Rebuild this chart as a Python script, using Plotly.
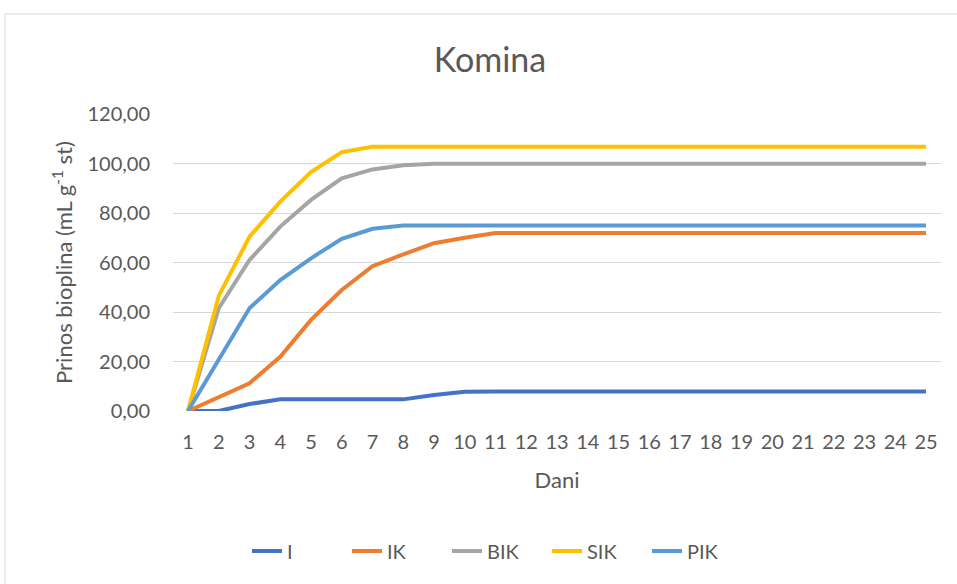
import plotly.graph_objects as go

days = list(range(1, 26))
I_vals = [0, 0, 2.8, 4.7, 4.7, 4.7, 4.7, 4.7, 6.5, 7.8] + [7.9] * 15
IK_vals = [0, 5.8, 11.2, 21.9, 36.8, 48.9, 58.5, 63.3, 67.8, 70.0, 71.9] + [71.9] * 14
BIK_vals = [0, 41.5, 61.0, 74.5, 85.3, 94.0, 97.6, 99.3, 99.9] + [99.9] * 16
SIK_vals = [0, 46.5, 70.4, 84.6, 96.5, 104.6, 106.8] + [106.8] * 18
PIK_vals = [0, 21.0, 41.5, 52.9, 61.7, 69.6, 73.6, 74.9] + [74.9] * 17

series = [
    ("I", I_vals, "#4472C4"),
    ("IK", IK_vals, "#ED7D31"),
    ("BIK", BIK_vals, "#A5A5A5"),
    ("SIK", SIK_vals, "#FFC000"),
    ("PIK", PIK_vals, "#5B9BD5"),
]

font_family = "Lato, 'Open Sans', sans-serif"
txt_color = "#595959"

fig = go.Figure()
for name, vals, color in series:
    fig.add_trace(go.Scatter(x=days, y=vals, name=name, mode="lines",
                             line=dict(color=color, width=4)))

L, R, T, B = 173, 16, 114, 173
W, H = 957, 584
pw, ph = W - L - R, H - T - B

def px_x(px):
    return (px - L) / pw

def px_y(py):
    return (H - B - py) / ph

fig.add_shape(type="rect", xref="paper", yref="paper",
              x0=px_x(5), x1=px_x(975), y0=px_y(600), y1=px_y(14),
              line=dict(color="#D9D9D9", width=1), fillcolor="rgba(0,0,0,0)", layer="below")

fig.update_layout(
    width=W, height=H,
    margin=dict(l=L, r=R, t=T, b=B),
    paper_bgcolor="white", plot_bgcolor="white",
    separators=", ",
    font=dict(family=font_family, color=txt_color, size=20),
    title=dict(text="Komina", x=px_x(490), xref="paper", xanchor="center",
               y=1 - 60 / H, yanchor="middle",
               font=dict(size=34, color=txt_color, family=font_family)),
    showlegend=True,
    legend=dict(orientation="h", x=px_x(497), xanchor="center", y=px_y(551), yanchor="middle",
                font=dict(size=20, color=txt_color), traceorder="normal",
                entrywidth=55, entrywidthmode="pixels"),
    xaxis=dict(range=[1 - 15 / 30.75, 25 + 15 / 30.75], tickmode="linear", tick0=1, dtick=1,
               showgrid=False, zeroline=False, showline=False, ticks="",
               ticklabelstandoff=17,
               tickfont=dict(size=20, color=txt_color),
               title=dict(text="Dani", font=dict(size=22, color=txt_color), standoff=20)),
    yaxis=dict(range=[0, 120], tickmode="linear", tick0=0, dtick=20, tickformat=".2f",
               showgrid=True, gridcolor="#D9D9D9", gridwidth=1, zeroline=False, showline=False,
               ticks="", ticklabelstandoff=22,
               tickfont=dict(size=20, color=txt_color),
               title=dict(text="Prinos bioplina (mL g<sup>-1</sup> st)",
                          font=dict(size=22, color=txt_color), standoff=8)),
)

fig.write_html("out.html", config={"displayModeBar": False},
               post_script="document.body.style.margin='0px';")
